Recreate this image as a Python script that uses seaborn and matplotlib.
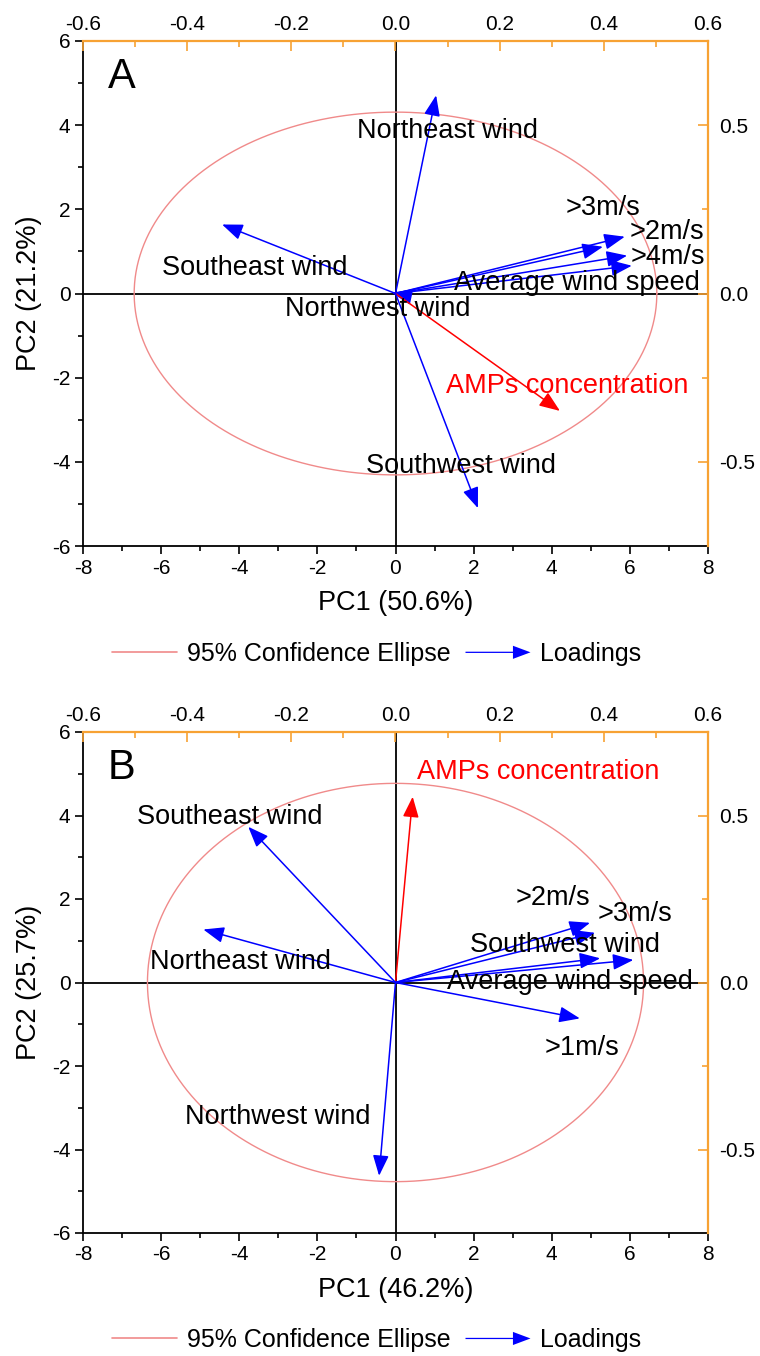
import numpy as np
import pandas as pd
import matplotlib
matplotlib.use("Agg")
import matplotlib.pyplot as plt
import matplotlib.patches as mpatches
from matplotlib.lines import Line2D
from matplotlib.legend_handler import HandlerPatch
import seaborn as sns

# ---------------- data ----------------
a_vars = ["Northeast wind", "Southeast wind", ">2m/s", ">3m/s", ">4m/s",
          "Average wind speed", "Northwest wind", "AMPs concentration", "Southwest wind"]
a_pc1 = [1.04, -4.44, 5.87, 5.31, 5.93, 6.05, -0.10, 4.21, 2.11]
a_pc2 = [4.71, 1.64, 1.35, 1.11, 0.90, 0.66, 0.02, -2.79, -5.10]
a_ellipse = (6.69, 4.31)
a_pc1_label = "PC1 (50.6%)"
a_pc2_label = "PC2 (21.2%)"

b_vars = ["AMPs concentration", "Southeast wind", "Northeast wind", ">2m/s", ">3m/s",
          "Southwest wind", "Average wind speed", ">1m/s", "Northwest wind"]
b_pc1 = [0.44, -3.77, -4.92, 4.98, 5.11, 5.24, 6.09, 4.72, -0.42]
b_pc2 = [4.45, 3.73, 1.27, 1.43, 1.19, 0.58, 0.54, -0.86, -4.63]
b_ellipse = (6.35, 4.77)
b_pc1_label = "PC1 (46.2%)"
b_pc2_label = "PC2 (25.7%)"

x_ticks = [-8, -6, -4, -2, 0, 2, 4, 6, 8]
y_ticks = [-6, -4, -2, 0, 2, 4, 6]
top_ticks = [-0.6, -0.4, -0.2, 0.0, 0.2, 0.4, 0.6]
top_ticklabels = ["-0.6", "-0.4", "-0.2", "0.0", "0.2", "0.4", "0.6"]
right_ticks = [-0.5, 0.0, 0.5]
right_ticklabels = ["-0.5", "0.0", "0.5"]

# label placement (layout only)
a_label_pos = {"Northeast wind": (1.34, 3.86), "Southeast wind": (-3.60, 0.60),
               ">2m/s": (6.95, 1.45), ">3m/s": (5.31, 2.02), ">4m/s": (6.98, 0.86),
               "Average wind speed": (4.65, 0.26), "Northwest wind": (-0.45, -0.36),
               "AMPs concentration": (4.39, -2.19), "Southwest wind": (1.68, -4.10)}
b_label_pos = {"AMPs concentration": (3.65, 5.04), "Southeast wind": (-4.24, 3.96),
               "Northeast wind": (-3.98, 0.49), "Northwest wind": (-3.01, -3.22),
               ">2m/s": (4.03, 2.02), ">3m/s": (6.13, 1.64), "Southwest wind": (4.34, 0.90),
               "Average wind speed": (4.47, 0.01), ">1m/s": (4.77, -1.57)}

# ---------------- style ----------------
sns.set_theme(style="ticks")
plt.rcParams['font.family'] = ['Liberation Sans', 'DejaVu Sans']
plt.rcParams['text.color'] = 'black'
plt.rcParams['axes.labelcolor'] = 'black'
plt.rcParams['xtick.color'] = 'black'
plt.rcParams['ytick.color'] = 'black'
ORANGE = "#F7A233"
ELL = "#F08A8A"
BLUE = "#0000FF"
RED = "#FF0000"


class HandlerArrow(HandlerPatch):
    def create_artists(self, legend, orig_handle, xdescent, ydescent, width, height,
                       fontsize, trans):
        y = 0.5 * height - ydescent
        p = mpatches.FancyArrow(-xdescent, y, width, 0, width=0.9,
                                length_includes_head=True,
                                head_width=0.75 * height, head_length=0.27 * width,
                                color=BLUE, lw=0)
        p.set_transform(trans)
        return [p]


def panel(ax, letter, vars_, pc1, pc2, ell, label_pos, xlabel, ylabel):
    ax.set_xlim(-8, 8)
    ax.set_ylim(-6, 6)
    # confidence ellipse
    t = np.linspace(0, 2 * np.pi, 400)
    edf = pd.DataFrame({"x": ell[0] * np.cos(t), "y": ell[1] * np.sin(t)})
    sns.lineplot(data=edf, x="x", y="y", sort=False, estimator=None, ax=ax,
                 color=ELL, lw=1.0, zorder=2)
    ax.axhline(0, color="black", lw=1.3, zorder=1)
    ax.axvline(0, color="black", lw=1.3, zorder=1)
    # loadings
    for v, x, y in zip(vars_, pc1, pc2):
        c = RED if v == "AMPs concentration" else BLUE
        tc = RED if v == "AMPs concentration" else "black"
        ax.annotate("", xy=(x, y), xytext=(0, 0),
                    arrowprops=dict(arrowstyle="-|>,head_length=0.9,head_width=0.35",
                                    mutation_scale=14, color=c, lw=1.1,
                                    shrinkA=0, shrinkB=0), zorder=3)
        lx, ly = label_pos[v]
        ax.text(lx, ly, v, ha="center", va="center", fontsize=19.5, color=tc, zorder=4)
    ax.text(0.04, 0.928, letter, transform=ax.transAxes, fontsize=30,
            ha="left", va="center", color="black")

    ax.set_xticks(x_ticks)
    ax.set_xticklabels([str(v) for v in x_ticks])
    ax.set_yticks(y_ticks)
    ax.set_yticklabels([str(v) for v in y_ticks])
    ax.set_xticks(np.arange(-7, 8, 2), minor=True)
    ax.set_yticks(np.arange(-5, 6, 2), minor=True)
    ax.tick_params(axis="both", which="major", direction="out", length=6, width=1.2,
                   labelsize=15, color="black", labelcolor="black", pad=3)
    ax.tick_params(axis="both", which="minor", direction="out", length=3.5, width=1.2,
                   color="black")
    for s in ["left", "bottom"]:
        ax.spines[s].set_color("black")
        ax.spines[s].set_linewidth(1.3)
    for s in ["top", "right"]:
        ax.spines[s].set_visible(False)
    ax.set_xlabel(xlabel, fontsize=19.5, labelpad=9, color="black")
    ax.set_ylabel(ylabel, fontsize=19.5, labelpad=7, color="black")

    # top axis (loadings)
    axt = ax.twiny()
    axt.set_xlim(-0.6, 0.6)
    axt.set_xticks(top_ticks)
    axt.set_xticklabels(top_ticklabels)
    axt.set_xticks(np.arange(-0.5, 0.6, 0.2), minor=True)
    axt.tick_params(axis="x", which="major", direction="in", length=7, width=1.2,
                    color=ORANGE, labelcolor="black", labelsize=15, pad=5)
    axt.tick_params(axis="x", which="minor", direction="in", length=4, width=1.2,
                    color=ORANGE)
    for s in ["left", "bottom", "right"]:
        axt.spines[s].set_visible(False)
    axt.spines["top"].set_color(ORANGE)
    axt.spines["top"].set_linewidth(1.6)
    axt.grid(False)

    # right axis (loadings)
    axr = ax.twinx()
    axr.set_ylim(-0.75, 0.75)
    axr.set_yticks(right_ticks)
    axr.set_yticklabels(right_ticklabels)
    axr.set_yticks([-0.25, 0.25], minor=True)
    axr.tick_params(axis="y", which="major", direction="in", length=7, width=1.2,
                    color=ORANGE, labelcolor="black", labelsize=15, pad=8)
    axr.tick_params(axis="y", which="minor", direction="in", length=4, width=1.2,
                    color=ORANGE)
    for s in ["left", "bottom", "top"]:
        axr.spines[s].set_visible(False)
    axr.spines["right"].set_color(ORANGE)
    axr.spines["right"].set_linewidth(1.6)
    axr.grid(False)

    handles = [Line2D([], [], color=ELL, lw=1.2),
               mpatches.FancyArrow(0, 0, 1, 0)]
    ax.legend(handles, ["95% Confidence Ellipse", "Loadings"],
              handler_map={mpatches.FancyArrow: HandlerArrow()},
              loc="center", bbox_to_anchor=(0.47, -0.214), ncol=2, frameon=False,
              fontsize=18, handlelength=2.6, handletextpad=0.4, columnspacing=0.6,
              labelcolor="black")


fig = plt.figure(figsize=(7.6, 13.56), dpi=100)
axA = fig.add_axes([83 / 760, (1356 - 546) / 1356, 625 / 760, 505 / 1356])
axB = fig.add_axes([83 / 760, (1356 - 1233) / 1356, 625 / 760, 501 / 1356])

panel(axA, "A", a_vars, a_pc1, a_pc2, a_ellipse, a_label_pos, a_pc1_label, a_pc2_label)
panel(axB, "B", b_vars, b_pc1, b_pc2, b_ellipse, b_label_pos, b_pc1_label, b_pc2_label)

fig.savefig("out.png", dpi=100, facecolor="white")
